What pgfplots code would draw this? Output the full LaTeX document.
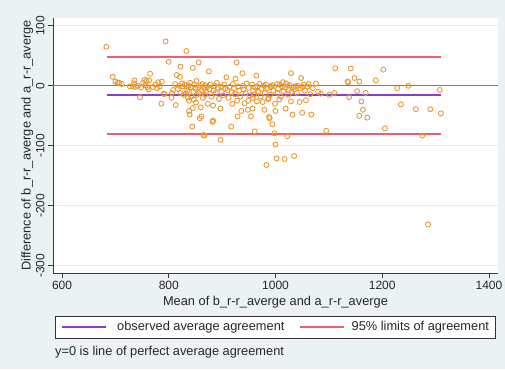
\documentclass[border=0pt]{standalone}
\usepackage{pgfplots}
\pgfplotsset{compat=1.18}
\usepackage{fontspec}
\setmainfont{Liberation Sans}

\definecolor{bgc}{RGB}{234,242,243}
\definecolor{gridc}{RGB}{226,236,238}
\definecolor{zeroteal}{RGB}{72,146,138}
\definecolor{meanpurple}{RGB}{140,60,200}
\definecolor{limred}{RGB}{236,96,110}
\definecolor{ptc}{RGB}{234,150,44}
\definecolor{axc}{RGB}{60,60,60}

% mean difference and 95% limits of agreement
\newcommand{\meandiff}{-16}
\newcommand{\loalow}{-81}
\newcommand{\loahigh}{48.5}
\newcommand{\lblfont}{\fontsize{12.8}{15}\selectfont}
\newcommand{\tckfont}{\fontsize{12}{14}\selectfont}

\begin{document}
\begin{tikzpicture}
\fill[bgc] (0,0) rectangle (505pt,369pt);
\useasboundingbox (0,0) rectangle (505pt,369pt);
\begin{axis}[
  at={(53pt,96pt)}, anchor=south west,
  scale only axis, width=445pt, height=255pt,
  xmin=583, xmax=1417, ymin=-312, ymax=113,
  xtick={600,800,1000,1200,1400},
  ytick={-300,-200,-100,0,100},
  axis lines*=left,
  axis line style={-, draw=axc, line width=0.8pt},
  tick align=outside, major tick length=5pt,
  tick style={draw=axc, line width=0.8pt},
  ymajorgrids, grid style={draw=gridc, line width=0.8pt},
  axis background/.style={fill=white},
  scaled ticks=false,
  /pgf/number format/assume math mode=true,
  /pgf/number format/1000 sep={},
  tick label style={font=\tckfont, text=black!85},
  yticklabel style={rotate=90, anchor=south},
  label style={font=\lblfont, text=black!85},
  xlabel={Mean of b\_r-r\_averge and a\_r-r\_averge},
  xlabel style={at={(axis description cs:0.5,-0.114)}, anchor=center},
  ylabel={Difference of b\_r-r\_averge and a\_r-r\_averge},
  ylabel style={at={(axis description cs:-0.058,0.5)}, anchor=center, rotate=0},
  legend columns=2,
  legend cell align=left,
  legend style={at={(axis description cs:0.4989,-0.212)}, anchor=center,
    draw=black!80, line width=0.6pt, fill=white,
    font=\lblfont, text=black!85,
    inner xsep=6pt, inner ysep=5pt,
    nodes={inner xsep=0pt, inner ysep=0.5pt},
    /tikz/column 1/.style={column sep=11pt},
    /tikz/column 2/.style={column sep=15pt},
    /tikz/column 3/.style={column sep=7pt}},
  legend image code/.code={\draw[#1, line width=1.2pt] (0pt,0pt) -- (44pt,0pt);},
]
% perfect agreement
\addplot[zeroteal, line width=1.2pt, forget plot] coordinates {(583,0) (1417,0)};

% paired measurements
\addplot[ptc, only marks, mark=o, mark size=2.5pt, line width=0.85pt,
  mark options={draw=ptc, fill=ptc!18}, forget plot] coordinates {
(683,65) (695,15) (700,7) (704,5) (707,5) (712,3) (727,-1) (733,-1) (735,4) (736,9)
(738,-2) (742,0) (746,-19) (748,-3) (752,5) (755,10) (756,1) (758,8) (760,-2) (762,-6)
(763,9) (765,20) (770,-2) (775,2) (778,-4) (780,6) (783,-1) (786,-30) (787,7) (791,-13)
(792,-14) (794,74) (800,40) (805,-20) (806,-12) (808,-7) (812,3) (813,-32) (815,18) (817,-5)
(819,0) (821,15) (822,32) (822,-12) (825,4) (826,-1) (828,-15) (830,2) (832,-13) (833,58)
(834,-3) (835,-8) (836,-20) (837,0) (838,-42) (838,-25) (839,-48) (840,5) (841,-2) (842,-18)
(844,-68) (845,-37) (845,30) (846,-10) (847,-23) (848,2) (850,-5) (851,-28) (852,8) (853,-15)
(855,-3) (856,39) (857,-12) (858,-54) (859,0) (860,-36) (861,-51) (862,-8) (863,3) (864,-20)
(865,-82) (866,-4) (867,-83) (868,-15) (869,1) (870,-10) (872,-2) (873,-30) (875,24) (876,-6)
(878,2) (880,-18) (882,-60) (883,-33) (883,-58) (884,-8) (886,0) (888,-12) (890,5) (892,-3)
(894,-22) (897,-38) (897,-90) (898,-1) (899,-10) (902,-16) (904,2) (906,-5) (908,14) (910,-7)
(912,-20) (914,-2) (917,-68) (918,-11) (919,-30) (920,3) (922,-4) (924,-14) (925,12) (927,39)
(928,-25) (929,-51) (930,-1) (932,-8) (934,-18) (936,-42) (938,21) (939,0) (940,-6) (942,-29)
(944,-12) (946,4) (948,-40) (949,-25) (950,-3) (952,-16) (954,-51) (956,2) (957,-38) (957,-20)
(958,-8) (960,-15) (961,-76) (962,-3) (964,17) (965,-26) (966,-1) (968,-10) (970,3) (972,-18)
(974,-5) (976,-27) (978,0) (979,-40) (980,-12) (982,2) (983,-132) (985,-4) (986,-22) (987,-21)
(988,-52) (989,-54) (990,-15) (991,-2) (992,0) (994,-64) (995,1) (996,-8) (998,-79) (999,-30)
(1000,-42) (1000,-98) (1002,-121) (1003,3) (1004,-12) (1005,-5) (1007,-23) (1008,2) (1010,-18) (1012,-1)
(1014,6) (1015,-9) (1017,-122) (1018,-3) (1019,-38) (1020,4) (1022,-84) (1023,0) (1024,-15) (1025,-7)
(1027,1) (1029,21) (1029,-26) (1030,-10) (1032,-48) (1034,-2) (1035,-117) (1036,-6) (1038,-1) (1040,-12)
(1042,0) (1045,-27) (1046,-4) (1048,13) (1050,-45) (1051,-2) (1053,2) (1055,-8) (1057,-24) (1060,-1)
(1062,3) (1065,-14) (1067,-48) (1070,-4) (1076,4) (1080,-10) (1085,-13) (1095,-75) (1101,-15) (1110,-12)
(1112,29) (1135,7) (1136,6) (1138,-19) (1141,29) (1148,13) (1153,-9) (1157,7) (1157,-50) (1161,-26)
(1164,-40) (1169,-12) (1172,-53) (1188,9) (1202,27) (1205,-71) (1228,-4) (1235,-31) (1249,0) (1263,-39)
(1275,-83) (1286,-231) (1290,-39) (1308,-7) (1310,-46)
};

\addplot[meanpurple, line width=1.8pt] coordinates {(684,\meandiff) (1310,\meandiff)};
\addlegendentry{observed average agreement}
\addplot[limred, line width=2pt] coordinates {(684,\loahigh) (1310,\loahigh)};
\addlegendentry{95\% limits of agreement}
\addplot[limred, line width=2pt, forget plot] coordinates {(684,\loalow) (1310,\loalow)};
\end{axis}
\node[anchor=west, font=\lblfont, text=black!85, inner sep=0pt] at (55pt,17pt) {y=0 is line of perfect average agreement};
\end{tikzpicture}
\end{document}
